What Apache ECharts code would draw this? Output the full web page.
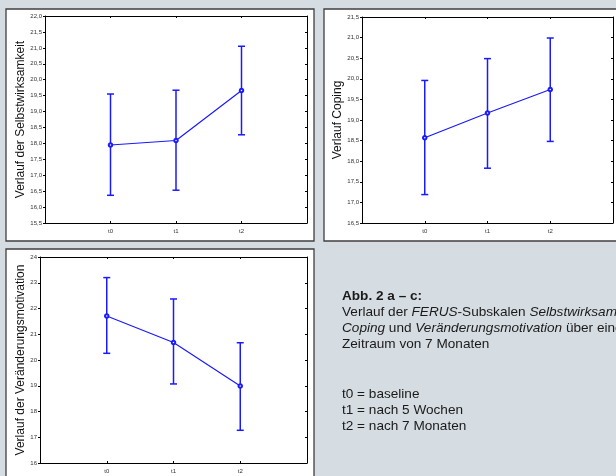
<!DOCTYPE html>
<html>
<head>
<meta charset="utf-8">
<script src="https://cdn.jsdelivr.net/npm/echarts@6/dist/echarts.min.js"></script>
<style>
html,body{margin:0;padding:0;background:#d5dde3;}
#c{width:616px;height:476px;}
</style>
</head>
<body>
<div id="c"></div>
<script>
// ---- data ----
var categories = ['t0', 't1', 't2'];
var selbMean = [17.95, 18.09, 19.66];
var selbLow  = [16.37, 16.53, 18.27];
var selbHigh = [19.55, 19.67, 21.05];
var copMean  = [18.57, 19.17, 19.74];
var copLow   = [17.19, 17.83, 18.48];
var copHigh  = [19.96, 20.49, 20.99];
var motMean  = [21.71, 20.68, 18.99];
var motLow   = [20.26, 19.07, 17.27];
var motHigh  = [23.20, 22.37, 20.67];
var yTitles = ['Verlauf der Selbstwirksamkeit', 'Verlauf Coping', 'Verlauf der Veränderungsmotivation'];
var captionLines = [
  '{b|Abb. 2 a – c:}',
  'Verlauf der {i|FERUS}-Subskalen {i|Selbstwirksamkeit,}',
  '{i|Coping} und {i|Veränderungsmotivation} über einen',
  'Zeitraum von 7 Monaten'
];
var legendLines = ['t0 = baseline', 't1 = nach 5 Wochen', 't2 = nach 7 Monaten'];

var FONT = '"Liberation Sans", Arial, sans-serif';
var BLUE = '#1a1aff';
var TXT = 13.6;
var chart = echarts.init(document.getElementById('c'), null, {renderer: 'canvas'});

var panels = [
  {grid: {left: 45, top: 16, width: 262, height: 207}, min: 15.5, max: 22, interval: 0.5, dec: 1, mean: selbMean, low: selbLow, high: selbHigh, title: yTitles[0], gap: 18},
  {grid: {left: 362, top: 17, width: 258, height: 206}, min: 16.5, max: 21.5, interval: 0.5, dec: 1, mean: copMean, low: copLow, high: copHigh, title: yTitles[1], gap: 17},
  {grid: {left: 40, top: 257, width: 267, height: 206}, min: 16, max: 24, interval: 1, dec: 0, mean: motMean, low: motLow, high: motHigh, title: yTitles[2], gap: 13}
];

var grids = [], xAxes = [], yAxes = [], series = [];
function axLine() { return {show: true, onZero: false, lineStyle: {color: '#000', width: 1}}; }
panels.forEach(function (p, gi) {
  grids.push(p.grid);
  xAxes.push({
    gridIndex: gi, type: 'value', min: -1, max: 3, interval: 1, position: 'bottom',
    axisLine: axLine(), splitLine: {show: false},
    axisTick: {show: true, inside: true, length: 2, lineStyle: {color: '#000'}},
    axisLabel: {show: true, fontSize: 6, fontFamily: FONT, color: '#333', margin: 5,
      formatter: function (v) { return categories[v] !== undefined ? categories[v] : ''; }}
  });
  xAxes.push({
    gridIndex: gi, type: 'value', min: -1, max: 3, interval: 1, position: 'top',
    axisLine: axLine(), splitLine: {show: false},
    axisTick: {show: true, inside: true, length: 2, lineStyle: {color: '#000'}},
    axisLabel: {show: false}
  });
  yAxes.push({
    gridIndex: gi, type: 'value', min: p.min, max: p.max, interval: p.interval, position: 'left',
    axisLine: axLine(), splitLine: {show: false},
    axisTick: {show: true, inside: false, length: 2, lineStyle: {color: '#000'}},
    axisLabel: {show: true, fontSize: 6, fontFamily: FONT, color: '#333', margin: 3,
      formatter: (function (dec) { return function (v) { return v.toFixed(dec).replace('.', ','); }; })(p.dec)},
    name: p.title, nameLocation: 'middle', nameRotate: 90, nameGap: p.gap,
    nameTextStyle: {fontSize: 12, fontFamily: FONT, color: '#111'}
  });
  yAxes.push({
    gridIndex: gi, type: 'value', min: p.min, max: p.max, interval: p.interval, position: 'right',
    axisLine: axLine(), splitLine: {show: false},
    axisTick: {show: true, inside: true, length: 2, lineStyle: {color: '#000'}},
    axisLabel: {show: false}
  });
  var errData = categories.map(function (c, i) { return [i, p.low[i], p.high[i]]; });
  series.push({
    type: 'custom', xAxisIndex: gi * 2, yAxisIndex: gi * 2,
    encode: {x: 0, y: [1, 2]},
    data: errData,
    renderItem: function (params, api) {
      var x = api.value(0);
      var lo = api.coord([x, api.value(1)]);
      var hi = api.coord([x, api.value(2)]);
      var hw = 3.5;
      var st = {stroke: BLUE, lineWidth: 1.5};
      return {type: 'group', children: [
        {type: 'line', shape: {x1: lo[0], y1: lo[1], x2: hi[0], y2: hi[1]}, style: st},
        {type: 'line', shape: {x1: lo[0] - hw, y1: lo[1], x2: lo[0] + hw, y2: lo[1]}, style: st},
        {type: 'line', shape: {x1: hi[0] - hw, y1: hi[1], x2: hi[0] + hw, y2: hi[1]}, style: st}
      ]};
    },
    z: 3
  });
  series.push({
    type: 'line', xAxisIndex: gi * 2, yAxisIndex: gi * 2,
    data: categories.map(function (c, i) { return [i, p.mean[i]]; }),
    symbol: 'emptyCircle', symbolSize: 3.5, showSymbol: true,
    lineStyle: {color: BLUE, width: 1.2},
    itemStyle: {color: BLUE, borderColor: BLUE, borderWidth: 1},
    animation: false, z: 4
  });
});

var BOX = {fill: '#fff', stroke: '#3f3f3f', lineWidth: 1.3};
var graphics = [
  {type: 'rect', shape: {x: 6, y: 9, width: 308, height: 232}, style: BOX, z: -10},
  {type: 'rect', shape: {x: 324, y: 9, width: 304, height: 232}, style: BOX, z: -10},
  {type: 'rect', shape: {x: 6, y: 249, width: 308, height: 240}, style: BOX, z: -10}
];
var capY = [296, 312, 328, 344];
captionLines.forEach(function (t, i) {
  graphics.push({type: 'text', x: 342, y: capY[i], style: {
    text: t, font: TXT + 'px ' + FONT, fill: '#1a1a1a', textVerticalAlign: 'middle',
    rich: {
      b: {fontWeight: 'bold', fontSize: TXT, fontFamily: FONT, fill: '#1a1a1a'},
      i: {fontStyle: 'italic', fontSize: TXT, fontFamily: FONT, fill: '#1a1a1a'}
    }
  }});
});
var legY = [394, 410, 426];
legendLines.forEach(function (t, i) {
  graphics.push({type: 'text', x: 342, y: legY[i], style: {
    text: t, font: TXT + 'px ' + FONT, fill: '#1a1a1a', textVerticalAlign: 'middle'
  }});
});

chart.setOption({
  backgroundColor: '#d5dde3',
  animation: false,
  grid: grids,
  xAxis: xAxes,
  yAxis: yAxes,
  series: series,
  graphic: graphics
});
</script>
</body>
</html>
